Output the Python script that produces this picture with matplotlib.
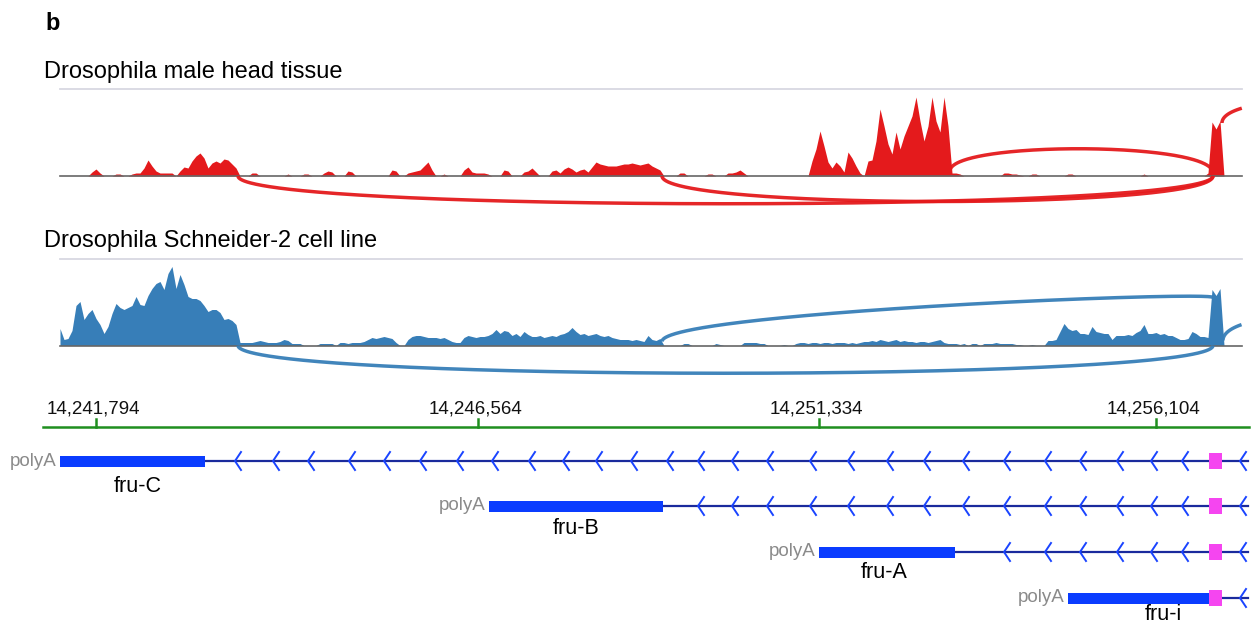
import numpy as np
import matplotlib
matplotlib.use("Agg")
import matplotlib.pyplot as plt
from matplotlib.patches import Rectangle

plt.rcParams['font.family'] = ['Liberation Sans', 'DejaVu Sans']

# ---- data (x in track pixels, heights in px above baseline) ----
STEP = 4
GRID_START, GRID_END = 60, 1240

# coverage runs: (first bin, heights every STEP px); zero elsewhere
RED_COV = [
    (92, [4, 7, 3]),
    (116, [2, 2]),
    (132, [2, 3, 3, 8, 16, 10, 5, 3, 3, 3, 3]),
    (180, [5, 9, 8, 15, 20, 23, 18, 8, 13, 15, 13, 17, 16, 12, 8]),
    (252, [3, 3]),
    (288, [2]),
    (304, [2, 2]),
    (324, [3, 5, 4]),
    (348, [5, 4]),
    (392, [6, 5]),
    (408, [3, 4, 5, 6, 10, 14, 6]),
    (444, [2]),
    (464, [6, 9, 4, 3, 3, 3, 2]),
    (504, [6, 5]),
    (524, [4, 5, 8, 4]),
    (552, [5, 6, 3, 7, 9, 7, 4, 6, 7, 4, 9, 14, 12, 11, 10, 10, 10, 11, 12, 12,
           13, 12, 11, 12, 13, 10, 8, 6]),
    (680, [3, 3]),
    (708, [2, 2]),
    (728, [3, 3, 4, 6, 3]),
    (812, [15, 27, 45, 30, 14, 8, 14, 10, 4, 24, 18, 10, 3]),
    (868, [15, 16, 35, 67, 50, 32, 22, 44, 27, 40, 50, 60, 79, 55, 35, 50, 79, 55,
           44, 79, 50, 3, 3, 2]),
    (1004, [3, 3, 2, 2, 1]),
    (1032, [2, 2]),
    (1068, [2, 2]),
    (1144, [2]),
    (1208, [3, 54, 47, 55]),
]

BLUE_COV = [
    (60, [17, 6, 7, 15, 40, 44, 26, 32, 36, 27, 21, 12, 19, 32, 42, 38, 36, 38, 40, 49,
          41, 40, 50, 57, 62, 64, 56, 72, 79, 57, 71, 61, 49, 47, 47, 45, 40, 34, 36, 36,
          33, 26, 27, 25, 21, 3, 3, 3, 3, 4, 5, 4, 3, 3, 3, 4, 6, 5, 2, 2, 2]),
    (320, [2, 2, 2, 2, 0, 3, 3, 2, 3, 3, 3, 4, 6, 8, 7, 8, 9, 8, 7, 3]),
    (408, [6, 9, 10, 10, 9, 8, 8, 8, 7, 8, 6, 4, 3, 3, 8, 10, 9, 8, 9, 9,
           10, 12, 16, 12, 15, 14, 10, 12, 9, 14, 11, 9, 9, 10, 8, 9, 10, 9, 11, 12,
           14, 18, 14, 11, 12, 10, 11, 12, 10, 9, 10, 8, 7, 6, 6, 6, 5, 6, 5, 4,
           10, 6, 5, 7]),
    (684, [2, 2]),
    (716, [2, 1]),
    (744, [3, 3, 3, 3, 2, 2]),
    (784, [1]),
    (796, [2, 3, 3, 2, 3, 3, 2, 3, 3, 2, 3, 3, 3, 2, 3, 2, 3, 4, 4, 5,
           4, 6, 5, 4, 5, 6, 4, 5, 4, 4, 3, 4, 4, 3, 4, 5, 6, 3, 2, 2,
           2, 1, 2, 0, 2, 2, 0, 2, 2, 2, 3, 2, 2, 2, 2, 1, 1]),
    (1032, [1]),
    (1048, [5, 5, 6, 14, 22, 17, 15, 16, 12, 12, 11, 19, 14, 13, 12, 12, 6, 10, 10, 10,
            11, 10, 13, 15, 21, 12, 12, 13, 11, 12, 10, 10, 8, 6, 6, 7, 14, 12, 9, 9,
            8, 56, 50, 57]),
]

# junctions: (start, end, start height, end height, ctrl height at start, ctrl height at end)
RED_JUNCTIONS = [
    (238, 1213, 0, 0, -37, -37),
    (662, 1213, 0, 0, -34, -34),
    (950, 1213, 5, 3, 35, 35),
    (1222, 1400, 53, 53, 83, 83),
]
BLUE_JUNCTIONS = [
    (238, 1213, 0, 0, -37, -37),
    (662, 1213, 4, 48, 33, 55),
    (1223, 1400, 5, 5, 38, 38),
]

TICK_POS = [96, 478, 819, 1156]
TICK_LABELS = ["14,241,794", "14,246,564", "14,251,334", "14,256,104"]

TRANSCRIPTS = ["fru-C", "fru-B", "fru-A", "fru-i"]
CDS_START = [60, 489, 819, 1068]
CDS_END = [205, 663, 955, 1210]
LABEL_X = [138, 576, 884, 1163]
FIRST_EXON = (1209, 1222)
GENE_END = 1248
CHEVRONS = [235, 273, 308, 349, 384, 420, 457, 492, 529, 563, 596, 631, 667, 698,
            732, 767, 810, 848, 887, 924, 963, 1004, 1045, 1080, 1117, 1151, 1182, 1240]

# ---- canvas ----
W, H = 1251, 628
fig = plt.figure(figsize=(W / 100, H / 100), dpi=100)
ax = fig.add_axes([0, 0, 1, 1])
ax.set_xlim(0, W)
ax.set_ylim(H, 0)
ax.axis("off")
fig.patch.set_facecolor("white")

RED = "#e41a1c"
BLUE = "#377eb8"
NAVY = "#1a2a9c"
EXON = "#0a3cff"
PINK = "#f545f0"
GREEN = "#1f8f1f"
TRACK_L, TRACK_R = 60, 1242


def coverage(runs):
    x = np.arange(GRID_START, GRID_END + STEP, STEP)
    h = np.zeros(len(x))
    for start, vals in runs:
        i = (start - GRID_START) // STEP
        h[i:i + len(vals)] = vals
    return x, h


def bezier(j, base):
    x0, x1, h0, h1, c0, c1 = j
    t = np.linspace(0, 1, 300)
    a, b, c, d = (1 - t) ** 3, 3 * (1 - t) ** 2 * t, 3 * (1 - t) * t ** 2, t ** 3
    xs = a * x0 + b * x0 + c * x1 + d * x1
    ys = base - (a * h0 + b * c0 + c * c1 + d * h1)
    keep = xs <= TRACK_R
    return xs[keep], ys[keep]


def track(title, title_y, top, base, runs, junctions, color):
    ax.text(44, title_y, title, fontsize=17, color="black", ha="left", va="baseline")
    ax.plot([TRACK_L, TRACK_R], [top, top], color="#d8d8e2", lw=1.3)
    x, h = coverage(runs)
    ax.fill_between(x, base - h, base, color=color, lw=0, zorder=2)
    ax.plot([TRACK_L, TRACK_R], [base, base], color="#666666", lw=1.2, zorder=3)
    for j in junctions:
        xs, ys = bezier(j, base)
        ax.plot(xs, ys, color=color, lw=2.5, alpha=0.95, zorder=4,
                solid_capstyle="butt")


ax.text(45, 30, "b", fontsize=17, fontweight="bold", ha="left", va="baseline")
track("Drosophila male head tissue", 78, 89, 176, RED_COV, RED_JUNCTIONS, RED)
track("Drosophila Schneider-2 cell line", 247, 259, 345.5, BLUE_COV, BLUE_JUNCTIONS, BLUE)

# ---- genomic axis ----
AXIS_Y = 427
ax.plot([43, 1249], [AXIS_Y, AXIS_Y], color=GREEN, lw=1.8)
for p, lab in zip(TICK_POS, TICK_LABELS):
    ax.plot([p, p], [AXIS_Y, AXIS_Y - 8], color=GREEN, lw=1.8)
    ax.text(p - 3, 414, lab, fontsize=13.5, ha="center", va="baseline", color="#111111")

# ---- transcripts ----
ROW_Y = [461, 506, 552, 598]
LABEL_Y = [486, 529, 573, 614]
for name, s, e, lx, y, ly in zip(TRANSCRIPTS, CDS_START, CDS_END, LABEL_X, ROW_Y, LABEL_Y):
    ax.plot([e, GENE_END], [y, y], color=NAVY, lw=1.6, zorder=2)
    for c in CHEVRONS:
        if c > e + 15 and not (FIRST_EXON[0] - 6 < c < FIRST_EXON[1] + 4):
            ax.plot([c + 6, c, c + 6], [y - 9, y, y + 9], color="#1a44ff", lw=1.4, zorder=3)
    ax.add_patch(Rectangle((s, y - 5.5), e - s, 11, color=EXON, lw=0, zorder=4))
    ax.add_patch(Rectangle((FIRST_EXON[0], y - 8), FIRST_EXON[1] - FIRST_EXON[0], 16,
                           color=PINK, lw=0, zorder=5))
    ax.text(s - 3, y, "polyA", fontsize=13.5, color="#8a8a8a", ha="right", va="center")
    ax.text(lx, ly, name, fontsize=15.5, color="black", ha="center", va="center")

fig.savefig("out.png", dpi=100, facecolor="white")
